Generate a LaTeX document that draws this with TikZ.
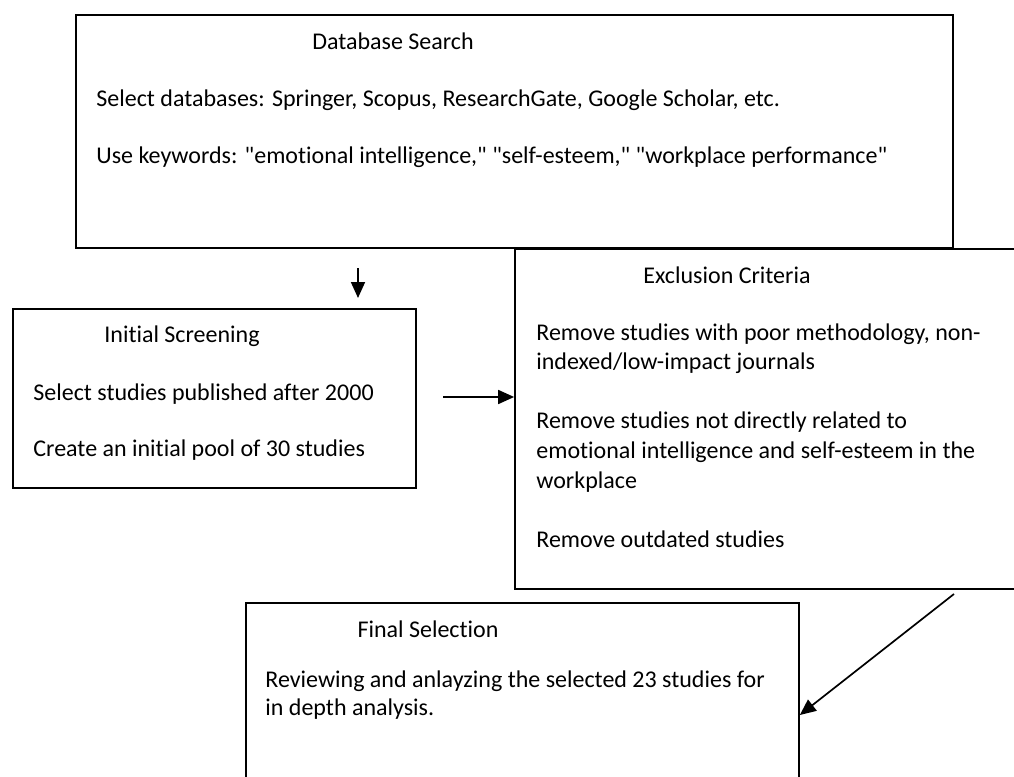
\documentclass[tikz,border=0pt]{standalone}
\usepackage{fontspec}
\setmainfont{Carlito}[Ligatures={TeXOff,NoCommon}]
\usetikzlibrary{arrows.meta,fit}
\begin{document}
\begin{tikzpicture}[x=0.5pt,y=-0.5pt,
  box/.style={draw=black,line width=0.85pt,inner sep=0pt,rectangle},
  txt/.style={inner sep=0pt,anchor=base west,text=black,font=\fontsize{12}{15}\selectfont},
  ttl/.style={inner sep=0pt,anchor=base,text=black,font=\fontsize{12}{15}\selectfont},
  flow/.style={-{Triangle[length=8pt,width=7pt]},line width=0.85pt,draw=black}]
\useasboundingbox (0,0) rectangle (1014,777);
\clip (0,0) rectangle (1014,777);

% boxes
\node[box,fit={(76,15) (953,248)}] (db) {};
\node[box,fit={(13,309) (416,488)}] (scr) {};
\node[box,fit={(515,249) (1040,589)}] (exc) {};
\node[box,fit={(246,603) (799,800)}] (fin) {};

% Database Search
\node[ttl] (dbT) at (393,49) {Database Search};
\node[txt] (db1) at (96,106) {Select databases: Springer, Scopus, ResearchGate, Google Scholar, etc.};
\node[txt] (db2) at (96,163) {Use keywords: "emotional intelligence," "self-esteem," "workplace performance"};

% Initial Screening
\node[ttl] (scrT) at (182,342) {Initial Screening};
\node[txt] (scr1) at (33,400) {Select studies published after 2000};
\node[txt] (scr2) at (33,456) {Create an initial pool of 30 studies};

% Exclusion Criteria
\node[ttl] (excT) at (727,283) {Exclusion Criteria};
\node[txt] (exc1) at (536,340) {Remove studies with poor methodology, non-};
\node[txt] (exc2) at (536,369) {indexed/low-impact journals};
\node[txt] (exc3) at (536,428) {Remove studies not directly related to};
\node[txt] (exc4) at (536,458) {emotional intelligence and self-esteem in the};
\node[txt] (exc5) at (536,488) {workplace};
\node[txt] (exc6) at (536,547) {Remove outdated studies};

% Final Selection
\node[ttl] (finT) at (428,637) {Final Selection};
\node[txt] (fin1) at (265,687) {Reviewing and anlayzing the selected 23 studies for};
\node[txt] (fin2) at (265,715) {in depth analysis.};

% connectors
\coordinate (a1s) at (358,268);
\coordinate (a1e) at (358,298);
\draw[flow] (a1s) -- (a1e);

\coordinate (a2s) at (443,397);
\draw[flow] (a2s) -- (a2s -| exc.west);

\coordinate (a3s) at (954,594);
\coordinate (lvl) at (0,715);
\draw[flow] (a3s) -- (fin.east |- lvl);
\end{tikzpicture}
\end{document}
